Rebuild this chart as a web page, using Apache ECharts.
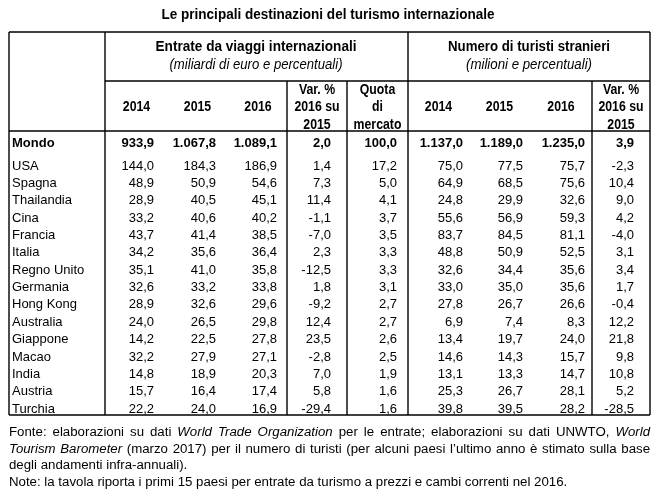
<!DOCTYPE html>
<html><head><meta charset="utf-8">
<script src="https://cdn.jsdelivr.net/npm/echarts@6/dist/echarts.min.js"></script>
<style>html,body{margin:0;padding:0;background:#fff}#c{width:664px;height:498px}</style>
</head><body><div id="c"></div>
<script>
// ---------- DATA ----------
const title = 'Le principali destinazioni del turismo internazionale';
const groupReceipts = 'Entrate da viaggi internazionali';
const groupReceiptsSub = '(miliardi di euro e percentuali)';
const groupArrivals = 'Numero di turisti stranieri';
const groupArrivalsSub = '(milioni e percentuali)';
const years = ['2014', '2015', '2016'];
const varHeader = ['Var. %', '2016 su', '2015'];
const shareHeader = ['Quota', 'di', 'mercato'];

const countries = ['Mondo','USA','Spagna','Thailandia','Cina','Francia','Italia','Regno Unito','Germania','Hong Kong','Australia','Giappone','Macao','India','Austria','Turchia'];
const receipts2014 = [933.9,144.0,48.9,28.9,33.2,43.7,34.2,35.1,32.6,28.9,24.0,14.2,32.2,14.8,15.7,22.2];
const receipts2015 = [1067.8,184.3,50.9,40.5,40.6,41.4,35.6,41.0,33.2,32.6,26.5,22.5,27.9,18.9,16.4,24.0];
const receipts2016 = [1089.1,186.9,54.6,45.1,40.2,38.5,36.4,35.8,33.8,29.6,29.8,27.8,27.1,20.3,17.4,16.9];
const receiptsVar = [2.0,1.4,7.3,11.4,-1.1,-7.0,2.3,-12.5,1.8,-9.2,12.4,23.5,-2.8,7.0,5.8,-29.4];
const marketShare = [100.0,17.2,5.0,4.1,3.7,3.5,3.3,3.3,3.1,2.7,2.7,2.6,2.5,1.9,1.6,1.6];
const arrivals2014 = [1137.0,75.0,64.9,24.8,55.6,83.7,48.8,32.6,33.0,27.8,6.9,13.4,14.6,13.1,25.3,39.8];
const arrivals2015 = [1189.0,77.5,68.5,29.9,56.9,84.5,50.9,34.4,35.0,26.7,7.4,19.7,14.3,13.3,26.7,39.5];
const arrivals2016 = [1235.0,75.7,75.6,32.6,59.3,81.1,52.5,35.6,35.6,26.6,8.3,24.0,15.7,14.7,28.1,28.2];
const arrivalsVar = [3.9,-2.3,10.4,9.0,4.2,-4.0,3.1,3.4,1.7,-0.4,12.2,21.8,9.8,10.8,5.2,-28.5];

const footLines = [
  [['Fonte: elaborazioni su dati ',0],['World Trade Organization',1],[' per le entrate; elaborazioni su dati UNWTO, ',0],['World',1]],
  [['Tourism Barometer',1],[' (marzo 2017) per il numero di turisti (per alcuni paesi l\u2019ultimo anno \u00e8 stimato sulla base',0]],
  [['degli andamenti infra-annuali).',0]],
  [['Note: la tavola riporta i primi 15 paesi per entrate da turismo a prezzi e cambi correnti nel 2016.',0]]
];

// ---------- LAYOUT ----------
const FAM = '"Liberation Sans", Arial, sans-serif';
const T = {left: 9, top: 32, width: 641, height: 383};   // table box (table units = px)
const colEdges = [0, 96, 157, 218, 278, 338, 399, 460, 521, 583, 641];
const colAnchor = [145, 207, 268, 322, 388, 454, 514, 576, 625];
const rowY = r => r === 0 ? 111 : 134 + (r - 1) * 17.36;
const groupLineY = 49, headLineY = 99;

const columns = [receipts2014, receipts2015, receipts2016, receiptsVar, marketShare, arrivals2014, arrivals2015, arrivals2016, arrivalsVar];

function fmt(v) {
  const neg = v < 0;
  let [i, d] = Math.abs(v).toFixed(1).split('.');
  i = i.replace(/\B(?=(\d{3})+(?!\d))/g, '.');
  return (neg ? '-' : '') + i + ',' + d;
}

const cells = [];
countries.forEach((c, r) => {
  cells.push({pos: [3, rowY(r)], text: c, align: 'left', bold: r === 0});
  columns.forEach((col, k) => cells.push({pos: [colAnchor[k], rowY(r)], text: fmt(col[r]), align: 'right', bold: r === 0}));
});

const rules = [
  [0, 0, 641, 0], [0, 383, 641, 383], [0, 0, 0, 383], [641, 0, 641, 383],
  [96, 0, 96, 383], [399, 0, 399, 383],
  [278, groupLineY, 278, 383], [338, groupLineY, 338, 383], [583, groupLineY, 583, 383],
  [96, groupLineY, 641, groupLineY], [0, headLineY, 641, headLineY]
];

// ---------- MEASURE ----------
const mctx = document.createElement('canvas').getContext('2d');
function tw(text, font) { mctx.font = font; return mctx.measureText(text).width; }

const graphics = [];
function fitText(text, cx, cy, font, targetW) {
  const w = tw(text, font);
  graphics.push({type: 'text', x: cx, y: cy, scaleX: targetW / w,
    style: {text, font, fill: '#000', align: 'center', verticalAlign: 'middle'}});
}
fitText(title, 328, 15, 'bold 15px ' + FAM, 333);
fitText(groupReceipts, 256, 47, 'bold 15px ' + FAM, 201);
fitText(groupReceiptsSub, 256, 65, 'italic 15px ' + FAM, 173);
fitText(groupArrivals, 529, 47, 'bold 15px ' + FAM, 162);
fitText(groupArrivalsSub, 529, 65, 'italic 15px ' + FAM, 126);

const headFont = 'bold 15px ' + FAM;
const hx = i => T.left + (colEdges[i + 1] + colEdges[i + 2]) / 2;
function headText(text, cx, cy) {
  graphics.push({type: 'text', x: cx, y: cy, scaleX: 0.82,
    style: {text, font: headFont, fill: '#000', align: 'center', verticalAlign: 'middle'}});
}
years.forEach((y, i) => { headText(y, hx(i) + 1, 107); headText(y, hx(i + 5), 107); });
varHeader.forEach((t, j) => { headText(t, hx(3), 89.5 + j * 17.5); headText(t, hx(8), 89.5 + j * 17.5); });
shareHeader.forEach((t, j) => headText(t, hx(4), 89.5 + j * 17.5));

// footnotes
const baseFs = 12;
const noteW12 = tw(footLines[3][0][0], baseFs + 'px ' + FAM);
const fs = baseFs * 559 / noteW12;
const footY = [432, 449, 465.5, 482];
footLines.forEach((segs, li) => {
  const toks = [];
  let prevEndsSpace = true;
  segs.forEach(([s, it]) => {
    const font = (it ? 'italic ' : '') + fs + 'px ' + FAM;
    const parts = s.split(' ');
    parts.forEach((w, wi) => {
      if (w === '') return;
      const piece = {text: w, font, width: tw(w, font)};
      const glue = wi === 0 && !prevEndsSpace && toks.length > 0;
      if (glue) toks[toks.length - 1].push(piece); else toks.push([piece]);
    });
    prevEndsSpace = s.endsWith(' ');
  });
  const tokW = toks.map(p => p.reduce((a, b) => a + b.width, 0));
  const total = tokW.reduce((a, b) => a + b, 0);
  const justify = li < 2;
  const gap = justify ? (T.width - total) / (toks.length - 1) : tw(' ', fs + 'px ' + FAM);
  let x = T.left;
  toks.forEach((p, i) => {
    let px = x;
    p.forEach(pc => {
      graphics.push({type: 'text', x: px, y: footY[li],
        style: {text: pc.text, font: pc.font, fill: '#000', align: 'left', verticalAlign: 'middle'}});
      px += pc.width;
    });
    x += tokW[i] + gap;
  });
});

// ---------- CHART ----------
const chart = echarts.init(document.getElementById('c'), null, {renderer: 'canvas'});
chart.setOption({
  animation: false,
  backgroundColor: '#fff',
  grid: {left: T.left, top: T.top, width: T.width, height: T.height},
  xAxis: {type: 'value', min: 0, max: T.width, show: false},
  yAxis: {type: 'value', min: 0, max: T.height, inverse: true, show: false},
  series: [
    {
      type: 'custom', clip: false, silent: true,
      data: rules,
      encode: {x: [0, 2], y: [1, 3]},
      renderItem: (params, api) => {
        const a = api.coord([api.value(0), api.value(1)]);
        const b = api.coord([api.value(2), api.value(3)]);
        return {type: 'line', shape: {x1: a[0], y1: a[1], x2: b[0], y2: b[1]},
          style: {stroke: '#000', lineWidth: 1.4}};
      }
    },
    {
      type: 'custom', clip: false, silent: true,
      data: cells.map(c => c.pos),
      encode: {x: 0, y: 1},
      renderItem: (params, api) => {
        const c = cells[params.dataIndex];
        const p = api.coord([api.value(0), api.value(1)]);
        return {type: 'text', x: p[0], y: p[1],
          style: {text: c.text, font: (c.bold ? 'bold ' : '') + '13px ' + FAM, fill: '#000',
            align: c.align, verticalAlign: 'middle'}};
      }
    }
  ],
  graphic: graphics
});
</script></body></html>
